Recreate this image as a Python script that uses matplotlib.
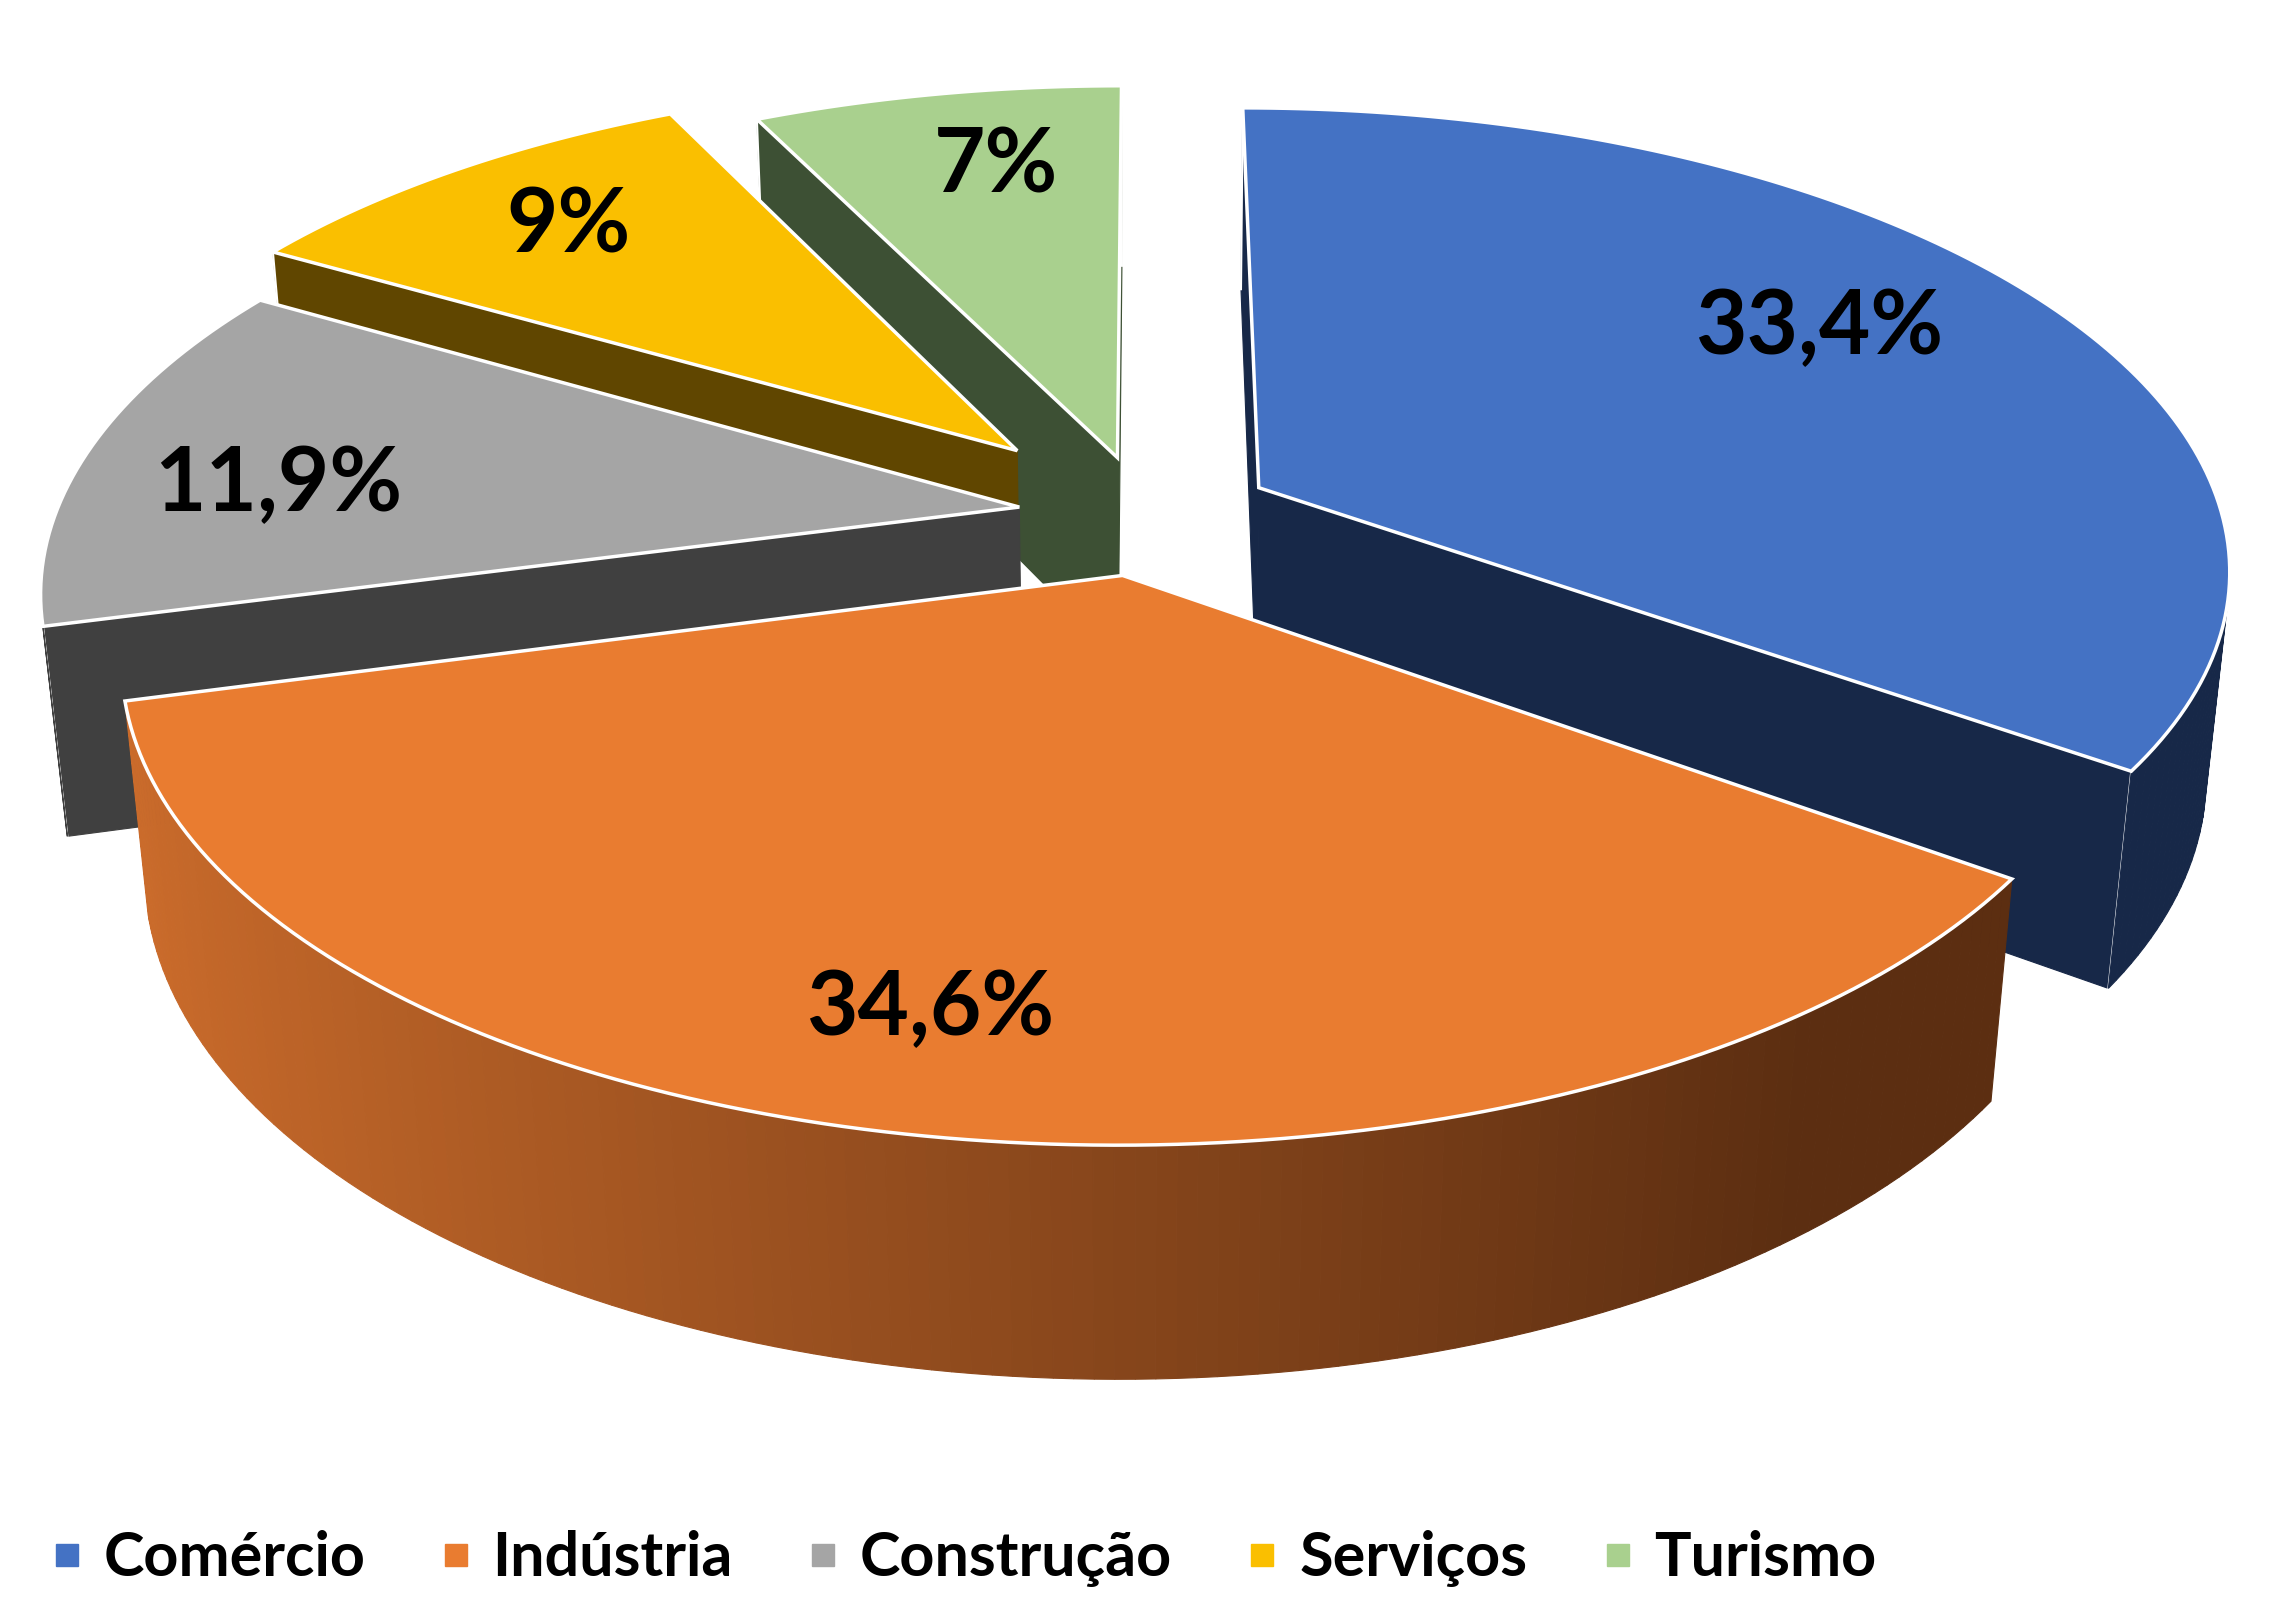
import numpy as np
import matplotlib
matplotlib.use('Agg')
import matplotlib.pyplot as plt
from matplotlib.patches import Polygon
from matplotlib.lines import Line2D
from matplotlib.colors import to_rgb

plt.rcParams['font.family'] = ['Lato', 'DejaVu Sans']

categories = ['Comércio', 'Indústria', 'Construção', 'Serviços', 'Turismo']
values = [33.4, 34.6, 11.9, 9, 7]
labels = ['33,4%', '34,6%', '11,9%', '9%', '7%']
top_colors = ['#4472C4', '#E97C30', '#A5A5A5', '#FABF00', '#A9D08E']
wall_light = ['#1A2C52', '#CA6B2B', '#404040', '#604600', '#3D5034']
wall_dark = ['#172848', '#5C2E11', '#404040', '#604600', '#3D5034']
explode = [0.133, 0.133, 0.133, 0.2, 0.133]

# label placement on the top face (radius fraction, angle nudge in degrees)
label_r = [0.74, 0.81, 0.78, 0.78, 0.77]
label_nudge = [-4, 1.5, -4, 0, 2]

# view / geometry settings (pixels of the output image)
ELEV = np.arcsin(0.4687)
FOC = 5.28
SCALE = 964
CX, CY = 1146, 515
H = 0.245

cam = np.array([0.0, -FOC * np.cos(ELEV), FOC * np.sin(ELEV)])


def proj(X, Y, Z):
    v = Y * np.sin(ELEV) + Z * np.cos(ELEV)
    w = Y * np.cos(ELEV) - Z * np.sin(ELEV)
    s = FOC / (FOC + w)
    return CX + SCALE * X * s, CY - SCALE * v * s, w


def mix(c1, c2, f):
    a = np.array(to_rgb(c1))
    b = np.array(to_rgb(c2))
    return tuple(b + (a - b) * f)


fig = plt.figure(figsize=(22.76, 16.22), dpi=100)
ax = fig.add_axes([0, 0, 1, 1])
ax.set_xlim(0, 2276)
ax.set_ylim(1622, 0)
ax.axis('off')

total = sum(values)
spans = [v / total * 360 for v in values]
starts = np.concatenate([[0], np.cumsum(spans)[:-1]])

walls = []
tops = []
label_pos = []
for i in range(len(values)):
    t0 = starts[i]
    t1 = t0 + spans[i]
    mid = np.radians((t0 + t1) / 2)
    ox, oy = explode[i] * np.sin(mid), explode[i] * np.cos(mid)
    n = max(int(spans[i] / 1.0), 6)
    ts = np.radians(np.linspace(t0, t1, n))
    X = ox + np.sin(ts)
    Y = oy + np.cos(ts)

    # top face
    px, py, _ = proj(np.concatenate([[ox], X]), np.concatenate([[oy], Y]), 0.0)
    tops.append((np.column_stack([px, py]), top_colors[i]))

    # outer wall, split in thin strips for the shading
    for j in range(n - 1):
        tm = (ts[j] + ts[j + 1]) / 2
        nrm = np.array([np.sin(tm), np.cos(tm), 0.0])
        P = np.array([ox + np.sin(tm), oy + np.cos(tm), 0.0])
        if np.dot(cam - P, nrm) <= 0:
            continue
        xa, ya, wa = proj(X[j:j + 2], Y[j:j + 2], 0.0)
        xb, yb, wb = proj(X[j:j + 2][::-1], Y[j:j + 2][::-1], -H)
        verts = np.column_stack([np.concatenate([xa, xb]), np.concatenate([ya, yb])])
        f = np.clip((-np.sin(tm) + 0.6) / 1.55, 0, 1)
        walls.append((np.mean(np.concatenate([wa, wb])), verts,
                      mix(wall_light[i], wall_dark[i], f), None))

    # cut faces
    for t, sign in ((ts[0], -1), (ts[-1], 1)):
        nrm = np.array([sign * np.cos(t), -sign * np.sin(t), 0.0])
        P = np.array([ox, oy, 0.0])
        if np.dot(cam - P, nrm) <= 0:
            continue
        rx, ry = ox + np.sin(t), oy + np.cos(t)
        xs, ys, ws = proj(np.array([ox, rx, rx, ox]), np.array([oy, ry, ry, oy]),
                          np.array([0.0, 0.0, -H, -H]))
        walls.append((np.mean(ws), np.column_stack([xs, ys]), wall_dark[i],
                      (xs[1:3], ys[1:3])))

    la = mid + np.radians(label_nudge[i])
    lx, ly, _ = proj(ox + label_r[i] * np.sin(la), oy + label_r[i] * np.cos(la), 0.0)
    label_pos.append((lx, ly))

# far faces first, all on one zorder so the adding order is the drawing order
walls.sort(key=lambda w: -w[0])
for _, verts, col, corner in walls:
    ax.add_patch(Polygon(verts, closed=True, facecolor=col, edgecolor=col, lw=0.8, zorder=1))
    if corner is not None:
        ax.plot(corner[0], corner[1], color='white', lw=1.5, zorder=1)
for verts, col in tops:
    ax.add_patch(Polygon(verts, closed=True, facecolor=col, edgecolor='white', lw=2.5, zorder=1))

for (lx, ly), lab in zip(label_pos, labels):
    ax.text(lx, ly, lab, ha='center', va='center', fontsize=64, fontweight='bold',
            color='black', zorder=3)

handles = [Line2D([], [], marker='s', linestyle='none', markersize=16,
                  markerfacecolor=c, markeredgecolor=c) for c in top_colors]
ax.legend(handles, categories, loc='center', bbox_to_anchor=(0.4215, 0.039), ncol=5,
          frameon=False, prop={'size': 44, 'weight': 'bold'}, handletextpad=0.2,
          columnspacing=1.08, handlelength=0.8)

fig.savefig('out.png', dpi=100, facecolor='white')
